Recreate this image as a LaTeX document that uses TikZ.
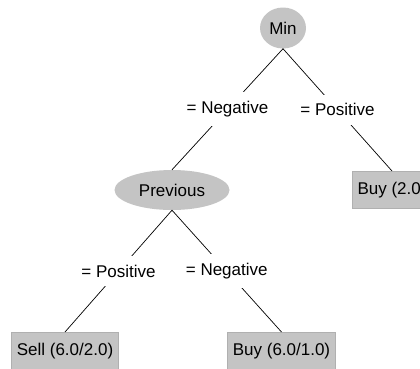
\documentclass[tikz,border=0pt]{standalone}
\usepackage{fontspec}
\setmainfont{Liberation Sans}
\usetikzlibrary{shapes.geometric}
\definecolor{nodegray}{HTML}{C4C4C4}
\definecolor{edgegray}{HTML}{9A9A9A}
\begin{document}
\begin{tikzpicture}[x=1pt,y=-1pt,
  every node/.style={font=\fontsize{17}{20}\selectfont},
  inner/.style={ellipse, fill=nodegray, inner sep=0pt},
  leaf/.style={rectangle, fill=nodegray, draw=nodegray!90!black, line width=0.6pt, minimum height=37pt, inner xsep=5.5pt, inner ysep=0pt, anchor=north},
  lbl/.style={fill=white, inner xsep=2pt, inner ysep=9pt},
  edge/.style={draw=black, line width=0.7pt}]
\useasboundingbox (0,0) rectangle (420,368);
\fill[white] (0,0) rectangle (420,368);
\node[inner, minimum width=46pt, minimum height=41pt] (min) at (283,28) {Min};
\node[inner, minimum width=115pt, minimum height=40pt] (prev) at (172,190) {Previous};
\node[leaf] (buy2) at (392,171) {Buy (2.0)};
\node[leaf] (sell) at (65,332) {Sell (6.0/2.0)};
\node[leaf] (buy6) at (281.5,332) {Buy (6.0/1.0)};
\draw[edge] (min.south) -- node[lbl] {= Negative} (prev.north);
\draw[edge] (min.south) -- node[lbl] {= Positive} (buy2.north);
\draw[edge] (prev.south) -- node[lbl] {= Positive} (sell.north);
\draw[edge] (prev.south) -- node[lbl] {= Negative} (buy6.north);
\end{tikzpicture}
\end{document}
